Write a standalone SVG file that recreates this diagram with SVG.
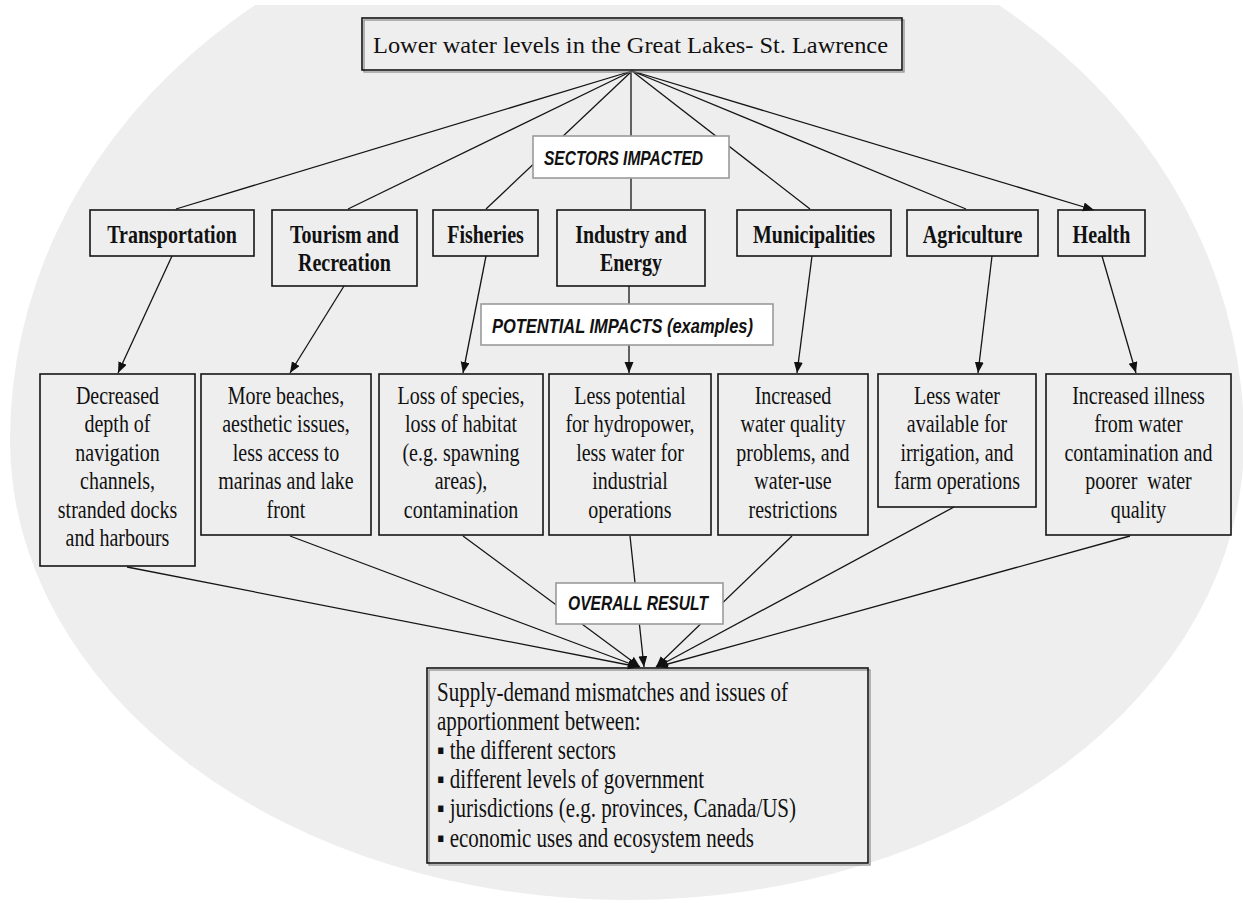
<svg xmlns="http://www.w3.org/2000/svg" width="1243" height="903" viewBox="0 0 1243 903">
<style>
.box{fill:none;stroke:#151515;stroke-width:1.6}
.shadow{fill:none;stroke:#8a8a8a;stroke-width:1.2}
.lbl{fill:#ffffff;stroke:#9a9a9a;stroke-width:1.6}
.con{fill:none;stroke:#151515;stroke-width:1.3}
.title{font-family:"Liberation Serif","Times New Roman",serif;font-size:24px;fill:#111}
.sec{font-family:"Liberation Serif","Times New Roman",serif;font-size:20px;font-weight:bold;fill:#111;text-anchor:middle}
.imp{font-family:"Liberation Serif","Times New Roman",serif;font-size:20px;fill:#111;text-anchor:middle}
.res{font-family:"Liberation Serif","Times New Roman",serif;font-size:21px;fill:#111}
.tag{font-family:"Liberation Sans",Arial,sans-serif;font-size:15px;font-weight:bold;font-style:italic;fill:#111}
</style>
<defs>
<clipPath id="clipTop"><rect x="0" y="5" width="1243" height="898"/></clipPath>
<marker id="arr" markerUnits="userSpaceOnUse" markerWidth="12" markerHeight="10" refX="11" refY="4.5" orient="auto">
<path d="M0,0 L11,4.5 L0,9 Z" fill="#111"/>
</marker>
</defs>
<rect x="0" y="0" width="1243" height="903" fill="#ffffff"/>
<path d="M10,440 A617,545 0 0 1 1244,440 A617,460 0 0 1 10,440 Z" fill="#eeeeee" clip-path="url(#clipTop)"/>

<g id="connectors">
<line class="con" x1="632" y1="71" x2="176" y2="209"/>
<line class="con" x1="632" y1="71" x2="348" y2="209"/>
<line class="con" x1="632" y1="71" x2="486" y2="209"/>
<line class="con" x1="631" y1="71" x2="631" y2="209"/>
<line class="con" x1="632" y1="71" x2="810" y2="209"/>
<line class="con" x1="632" y1="71" x2="966" y2="209"/>
<line class="con" x1="632" y1="71" x2="1094" y2="210" marker-end="url(#arr)"/>
<line class="con" x1="172" y1="256" x2="118" y2="373" marker-end="url(#arr)"/>
<line class="con" x1="344" y1="286" x2="290" y2="373" marker-end="url(#arr)"/>
<line class="con" x1="486" y1="256" x2="463" y2="373" marker-end="url(#arr)"/>
<line class="con" x1="629" y1="286" x2="629" y2="304"/>
<line class="con" x1="629" y1="345" x2="629" y2="373" marker-end="url(#arr)"/>
<line class="con" x1="812" y1="256" x2="797" y2="373" marker-end="url(#arr)"/>
<line class="con" x1="992" y1="256" x2="978" y2="373" marker-end="url(#arr)"/>
<line class="con" x1="1102" y1="256" x2="1136" y2="373" marker-end="url(#arr)"/>
<line class="con" x1="127" y1="567" x2="639" y2="667" marker-end="url(#arr)"/>
<line class="con" x1="290" y1="536" x2="639" y2="667" marker-end="url(#arr)"/>
<line class="con" x1="463" y1="536" x2="640" y2="667" marker-end="url(#arr)"/>
<line class="con" x1="630" y1="536" x2="644" y2="667" marker-end="url(#arr)"/>
<line class="con" x1="792" y1="536" x2="656" y2="667" marker-end="url(#arr)"/>
<line class="con" x1="954" y1="507" x2="657" y2="667" marker-end="url(#arr)"/>
<line class="con" x1="1130" y1="536" x2="657" y2="667" marker-end="url(#arr)"/>
</g>

<g id="top">
<rect class="shadow" x="364" y="20" width="540" height="52"/>
<rect class="box" x="362" y="18" width="540" height="52" fill="#eeeeee" stroke-width="2"/>
<text class="title" x="373" y="53" textLength="515" lengthAdjust="spacingAndGlyphs">Lower water levels in the Great Lakes- St. Lawrence</text>
</g>

<g id="sectors-label">
<rect class="lbl" x="533" y="136" width="196" height="42"/>
<text class="tag" x="544" y="165" textLength="159" lengthAdjust="spacingAndGlyphs" transform="matrix(1 0 0 1.3 0 -49.5)">SECTORS IMPACTED</text>
</g>

<g id="transportation">
<rect class="box" x="90" y="210" width="164" height="46" fill="#eeeeee"/>
<text class="sec" x="172" y="243" transform="matrix(1 0 0 1.3 0 -72.9)">Transportation</text>
</g>
<g id="tourism">
<rect class="box" x="272" y="210" width="145" height="76" fill="#eeeeee"/>
<text class="sec" transform="matrix(1 0 0 1.3 0 -72.9)"><tspan x="344.5" y="243">Tourism and</tspan><tspan x="344.5" dy="21.5">Recreation</tspan></text>
</g>
<g id="fisheries">
<rect class="box" x="433" y="210" width="105" height="46" fill="#eeeeee"/>
<text class="sec" x="485.5" y="243" transform="matrix(1 0 0 1.3 0 -72.9)">Fisheries</text>
</g>
<g id="industry">
<rect class="box" x="557" y="210" width="148" height="76" fill="#eeeeee"/>
<text class="sec" transform="matrix(1 0 0 1.3 0 -72.9)"><tspan x="631" y="243">Industry and</tspan><tspan x="631" dy="21.5">Energy</tspan></text>
</g>
<g id="municipalities">
<rect class="box" x="737" y="210" width="154" height="46" fill="#eeeeee"/>
<text class="sec" x="814" y="243" transform="matrix(1 0 0 1.3 0 -72.9)">Municipalities</text>
</g>
<g id="agriculture">
<rect class="box" x="907" y="210" width="131" height="46" fill="#eeeeee"/>
<text class="sec" x="972.5" y="243" transform="matrix(1 0 0 1.3 0 -72.9)">Agriculture</text>
</g>
<g id="health">
<rect class="box" x="1058" y="210" width="87" height="46" fill="#eeeeee"/>
<text class="sec" x="1101.5" y="243" transform="matrix(1 0 0 1.3 0 -72.9)">Health</text>
</g>

<g id="impacts-label">
<rect class="lbl" x="481" y="304" width="292" height="41"/>
<text class="tag" x="492" y="333" textLength="261" lengthAdjust="spacingAndGlyphs" transform="matrix(1 0 0 1.3 0 -99.9)">POTENTIAL IMPACTS (examples)</text>
</g>

<g id="impact-transportation">
<rect class="box" x="40" y="374" width="155" height="192" fill="#eeeeee"/>
<text class="imp" transform="matrix(1 0 0 1.25 0 -101)"><tspan x="117.5" y="404">Decreased</tspan><tspan x="117.5" dy="22.8">depth of</tspan><tspan x="117.5" dy="22.8">navigation</tspan><tspan x="117.5" dy="22.8">channels,</tspan><tspan x="117.5" dy="22.8">stranded docks</tspan><tspan x="117.5" dy="22.8">and harbours</tspan></text>
</g>
<g id="impact-tourism">
<rect class="box" x="201" y="374" width="170" height="161" fill="#eeeeee"/>
<text class="imp" transform="matrix(1 0 0 1.25 0 -101)"><tspan x="286" y="404">More beaches,</tspan><tspan x="286" dy="22.8">aesthetic issues,</tspan><tspan x="286" dy="22.8">less access to</tspan><tspan x="286" dy="22.8">marinas and lake</tspan><tspan x="286" dy="22.8">front</tspan></text>
</g>
<g id="impact-fisheries">
<rect class="box" x="379" y="374" width="164" height="161" fill="#eeeeee"/>
<text class="imp" transform="matrix(1 0 0 1.25 0 -101)"><tspan x="461" y="404">Loss of species,</tspan><tspan x="461" dy="22.8">loss of habitat</tspan><tspan x="461" dy="22.8">(e.g. spawning</tspan><tspan x="461" dy="22.8">areas),</tspan><tspan x="461" dy="22.8">contamination</tspan></text>
</g>
<g id="impact-industry">
<rect class="box" x="549" y="374" width="162" height="161" fill="#eeeeee"/>
<text class="imp" transform="matrix(1 0 0 1.25 0 -101)"><tspan x="630" y="404">Less potential</tspan><tspan x="630" dy="22.8">for hydropower,</tspan><tspan x="630" dy="22.8">less water for</tspan><tspan x="630" dy="22.8">industrial</tspan><tspan x="630" dy="22.8">operations</tspan></text>
</g>
<g id="impact-municipalities">
<rect class="box" x="718" y="374" width="150" height="161" fill="#eeeeee"/>
<text class="imp" transform="matrix(1 0 0 1.25 0 -101)"><tspan x="793" y="404">Increased</tspan><tspan x="793" dy="22.8">water quality</tspan><tspan x="793" dy="22.8">problems, and</tspan><tspan x="793" dy="22.8">water-use</tspan><tspan x="793" dy="22.8">restrictions</tspan></text>
</g>
<g id="impact-agriculture">
<rect class="box" x="878" y="374" width="158" height="133" fill="#eeeeee"/>
<text class="imp" transform="matrix(1 0 0 1.25 0 -101)"><tspan x="957" y="404">Less water</tspan><tspan x="957" dy="22.8">available for</tspan><tspan x="957" dy="22.8">irrigation, and</tspan><tspan x="957" dy="22.8">farm operations</tspan></text>
</g>
<g id="impact-health">
<rect class="box" x="1046" y="374" width="185" height="161" fill="#eeeeee"/>
<text class="imp" transform="matrix(1 0 0 1.25 0 -101)"><tspan x="1138.5" y="404">Increased illness</tspan><tspan x="1138.5" dy="22.8">from water</tspan><tspan x="1138.5" dy="22.8">contamination and</tspan><tspan x="1138.5" dy="22.8">poorer&#160; water</tspan><tspan x="1138.5" dy="22.8">quality</tspan></text>
</g>

<g id="overall-label">
<rect class="lbl" x="556" y="583" width="167" height="41"/>
<text class="tag" x="568" y="610" textLength="140" lengthAdjust="spacingAndGlyphs" transform="matrix(1 0 0 1.3 0 -183)">OVERALL RESULT</text>
</g>

<g id="result">
<rect class="shadow" x="429" y="670" width="441" height="195"/>
<rect class="box" x="427" y="668" width="441" height="195" fill="#eeeeee"/>
<text class="res" transform="matrix(1 0 0 1.25 0 -175.2)"><tspan x="437" y="700.7">Supply-demand mismatches and issues of</tspan><tspan x="437" dy="23.36">apportionment between:</tspan><tspan x="437" dy="23.36">▪ the different sectors</tspan><tspan x="437" dy="23.36">▪ different levels of government</tspan><tspan x="437" dy="23.36">▪ jurisdictions (e.g. provinces, Canada/US)</tspan><tspan x="437" dy="23.36">▪ economic uses and ecosystem needs</tspan></text>
</g>
</svg>
